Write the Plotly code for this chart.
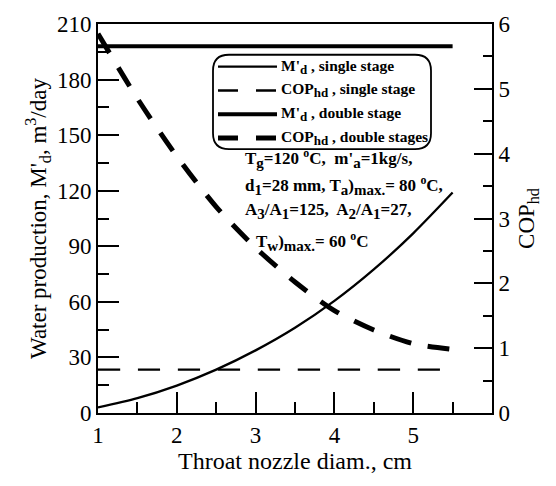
import plotly.graph_objects as go

# ---- data ----
diam_cm = [1.0, 1.5, 2.0, 2.5, 3.0, 3.5, 4.0, 4.5, 5.0, 5.5]
md_single = [3, 8, 14.8, 23.4, 33.8, 46, 60.5, 77.5, 97, 119]
cop_single = [0.67, 0.67, 0.67, 0.67, 0.67, 0.67, 0.67, 0.67, 0.67, 0.67]
md_double = [198, 198, 198, 198, 198, 198, 198, 198, 198, 198]
cop_double = [5.85, 4.85, 3.96, 3.18, 2.55, 2.02, 1.58, 1.28, 1.07, 0.98]

x_ticks = [1, 2, 3, 4, 5]
y_left_ticks = [0, 30, 60, 90, 120, 150, 180, 210]
y_right_ticks = [0, 1, 2, 3, 4, 5, 6]


def sub(t, size):
    return f"<sub><span style='font-size:{size}px'>{t}</span></sub>"


legend_labels = [f"M'{sub('d', 13)} , single stage", f"COP{sub('hd', 13)} , single stage",
                 f"M'{sub('d', 13)} , double stage", f"COP{sub('hd', 13)} , double stages"]

FONT = "Liberation Serif"
W, H = 556, 486
L, R, T, B = 98, 492, 21, 413


def px(x):
    return (x - L) / (R - L)


def py(y):
    return (B - y) / (B - T)


fig = go.Figure()
styles = [
    dict(width=2.3, dash="solid"),
    dict(width=2.3, dash="22px,18px"),
    dict(width=4, dash="solid"),
    dict(width=5, dash="22px,17px"),
]
series = [(md_single, "y"), (cop_single, "y2"), (md_double, "y"), (cop_double, "y2")]
for (vals, ax), st, name in zip(series, styles, legend_labels):
    fig.add_trace(go.Scatter(x=diam_cm, y=vals, yaxis=ax, mode="lines", name=name,
                             line=dict(color="black", shape="spline", smoothing=0.8, **st),
                             showlegend=False))

shapes = []
annotations = []
# rounded legend box
x0, x1, y0, y1, r = 213, 431, 52, 147, 16


def P(x, y):
    return f"{px(x):.5f},{py(y):.5f}"


path = (f"M {P(x0 + r, y0)} L {P(x1 - r, y0)} Q {P(x1, y0)} {P(x1, y0 + r)} "
        f"L {P(x1, y1 - r)} Q {P(x1, y1)} {P(x1 - r, y1)} L {P(x0 + r, y1)} "
        f"Q {P(x0, y1)} {P(x0, y1 - r)} L {P(x0, y0 + r)} Q {P(x0, y0)} {P(x0 + r, y0)} Z")
shapes.append(dict(type="path", xref="paper", yref="paper", path=path,
                   line=dict(color="black", width=1.8), fillcolor="white", layer="above"))
rows = [64, 88, 112, 136]
for yrow, st, lab in zip(rows, styles, legend_labels):
    shapes.append(dict(type="line", xref="paper", yref="paper", x0=px(218), x1=px(277),
                       y0=py(yrow), y1=py(yrow),
                       line=dict(color="black", width=st["width"],
                                 dash="solid" if st["dash"] == "solid" else "20px,18px"),
                       layer="above"))
    annotations.append(dict(xref="paper", yref="paper", x=px(279), y=py(yrow), text="<b>" + lab + "</b>",
                            showarrow=False, xanchor="left", yanchor="middle",
                            font=dict(family=FONT, size=15.5, color="black")))

notes = [
    (243, 157, f"T{sub('g', 15)}=120 <sup>o</sup>C,  m'{sub('a', 15)}=1kg/s,"),
    (243, 184, f"d{sub('1', 15)}=28 mm, T{sub('a', 15)}){sub('max.', 15)}= 80 <sup>o</sup>C,"),
    (243, 209, f"A{sub('3', 15)}/A{sub('1', 15)}=125,  A{sub('2', 15)}/A{sub('1', 15)}=27,"),
    (254, 240, f"T{sub('w', 15)}){sub('max.', 15)}= 60 <sup>o</sup>C"),
]
for xx, yy, t in notes:
    annotations.append(dict(xref="paper", yref="paper", x=px(xx), y=py(yy), text="<b>" + t + "</b>",
                            showarrow=False, xanchor="left", yanchor="middle",
                            font=dict(family=FONT, size=17, color="black")))

axis_common = dict(showline=True, linecolor="black", linewidth=2, ticks="inside",
                   tickcolor="black", tickwidth=2, showgrid=False, zeroline=False,
                   tickfont=dict(family=FONT, size=23, color="black"))

fig.update_layout(
    width=W, height=H,
    margin=dict(l=L, r=W - R, t=T, b=H - B),
    paper_bgcolor="white", plot_bgcolor="white",
    shapes=shapes, annotations=annotations,
    xaxis=dict(range=[1, 6], tickvals=x_ticks, ticklen=21, mirror=True,
               minor=dict(dtick=0.5, tick0=1, ticklen=11, tickwidth=2, tickcolor="black", ticks="inside"),
               title=dict(text="Throat nozzle diam., cm", font=dict(family=FONT, size=24, color="black"),
                          standoff=6),
               **axis_common),
    yaxis=dict(range=[0, 210], tickvals=y_left_ticks, ticklen=21,
               minor=dict(dtick=15, tick0=0, ticklen=11, tickwidth=2, tickcolor="black", ticks="inside"),
               title=dict(text="Water production, M'<sub>d</sub>, m<sup>3</sup>/day",
                          font=dict(family=FONT, size=23, color="black"), standoff=4),
               **axis_common),
    yaxis2=dict(range=[0, 6], tickvals=y_right_ticks, ticklen=18, overlaying="y", side="right",
                minor=dict(dtick=0.5, tick0=0, ticklen=9, tickwidth=2, tickcolor="black", ticks="inside"),
                title=dict(text="COP<sub>hd</sub>", font=dict(family=FONT, size=23, color="black"),
                           standoff=8),
                **axis_common),
)

fig.write_html("out.html")
